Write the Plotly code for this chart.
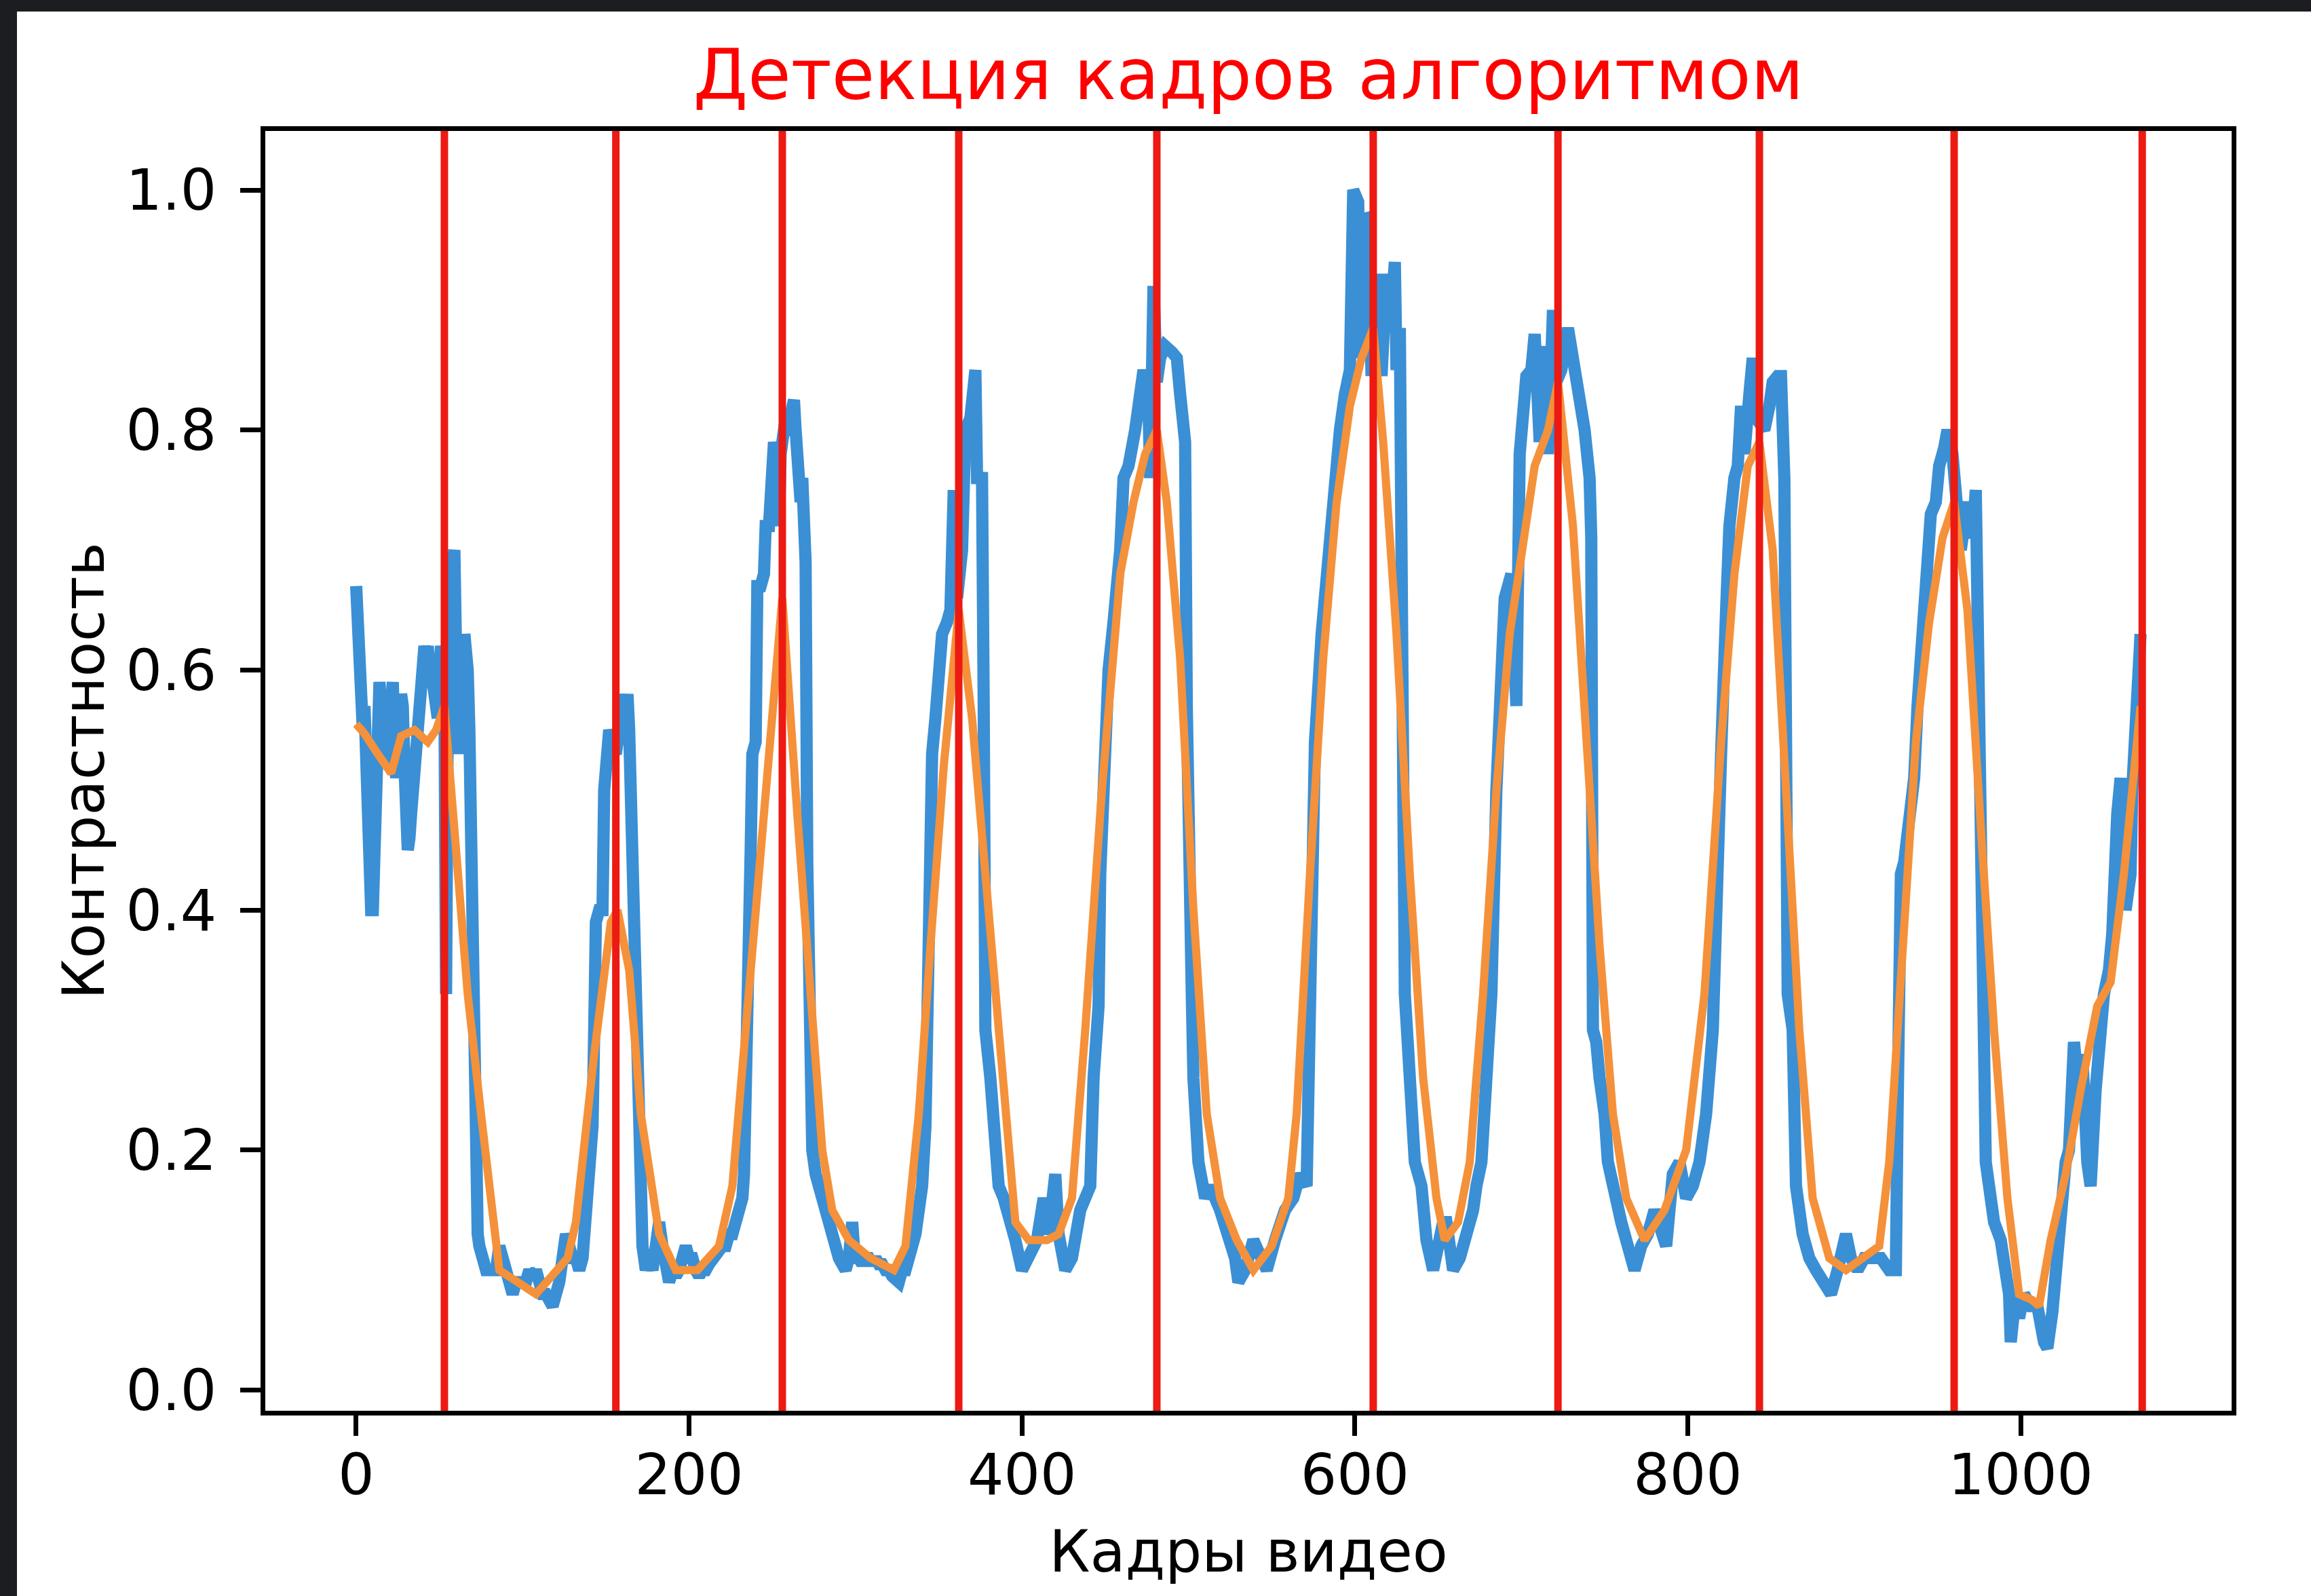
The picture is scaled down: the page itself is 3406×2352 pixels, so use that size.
import plotly.graph_objects as go

# ---------------- data ----------------
frames = [
    0, 1, 2, 3, 4, 5, 6, 7, 8, 9, 10, 11, 12, 13, 14, 15, 16, 17, 18, 19,
    20, 21, 22, 23, 24, 25, 26, 27, 28, 29, 30, 31, 32, 33, 34, 35, 36, 37, 38, 39,
    40, 41, 42, 43, 44, 45, 46, 47, 48, 49, 50, 51, 52, 53, 54, 55, 56, 57, 58, 59,
    60, 61, 62, 63, 64, 65, 66, 67, 68, 69, 70, 71, 72, 73, 74,
    76, 78, 80, 82, 84, 86, 88, 90, 92, 94, 96, 98, 100, 102, 104, 106, 108, 110,
    112, 114, 116, 118, 120, 122, 124, 126, 128, 130, 132, 134, 136, 138, 140, 142,
    143, 144, 146, 148, 149, 150, 152, 154, 156, 157, 158, 159, 160, 161, 162, 163,
    164, 165, 166, 167, 168, 169, 170, 171, 172, 174, 176, 178, 180, 182, 184, 186,
    188, 190, 192, 194, 196, 198, 200, 202, 204, 206, 208, 210, 212, 214, 216, 218,
    220, 222, 224, 226, 228, 230, 232, 233, 234, 235, 236, 237, 238, 240, 241, 243,
    245, 246, 248, 250, 251, 252, 253, 254, 255, 257, 259, 261, 263, 264, 265, 266,
    267, 268, 269, 270, 271, 272, 273, 274, 276, 278, 280, 282, 284, 286, 288, 290,
    292, 294, 296, 298, 299, 300, 302, 304, 306, 308, 310, 312, 314, 316, 318, 320,
    322, 324, 326, 328, 330, 332, 334, 336, 338, 340, 342, 343, 344, 345, 346, 348,
    350, 352, 355, 357, 359, 361, 364, 366, 369, 372, 373, 376, 377, 378, 381, 383,
    386, 389, 392, 396, 400, 404, 409, 413, 416, 420, 422, 426, 430, 435, 441, 443,
    446, 447, 450, 452, 455, 459, 461, 464, 468, 470, 473, 476, 477, 479, 481, 483,
    486, 490, 493, 495, 498, 499, 500, 502, 503, 506, 510, 513, 519, 524, 528, 530,
    534, 539, 543, 547, 552, 558, 563, 567, 571, 572, 575, 576, 580, 584, 588, 591,
    594, 597, 599, 602, 603, 606, 608, 610, 613, 616, 619, 621, 624, 625, 627, 628,
    629, 630, 633, 636, 640, 643, 647, 650, 653, 655, 659, 663, 667, 671, 673, 676,
    679, 682, 685, 688, 690, 694, 697, 699, 703, 706, 708, 711, 714, 716, 719, 721,
    724, 728, 730, 733, 735, 738, 741, 742, 743, 745, 747, 750, 752, 756, 760, 764,
    768, 772, 776, 780, 784, 787, 791, 795, 799, 803, 807, 811, 815, 817, 820, 823,
    825, 828, 830, 832, 834, 837, 839, 841, 846, 849, 851, 854, 856, 858, 859, 860,
    863, 865, 869, 873, 877, 881, 886, 890, 895, 898, 902, 906, 911, 916, 921, 925,
    926, 928, 930, 933, 936, 938, 941, 943, 946, 949, 951, 954, 956, 959, 962, 964,
    968, 971, 973, 975, 976, 979, 981, 984, 988, 990, 993, 994, 997, 999, 1002, 1006,
    1010, 1014, 1016, 1019, 1021, 1024, 1027, 1029, 1032, 1034, 1037, 1040, 1042, 1045,
    1047, 1050, 1053, 1055, 1058, 1060, 1063, 1066, 1067, 1068, 1070, 1072,
]
contrast = [
    0.67, 0.62, 0.60, 0.58, 0.55, 0.57, 0.52, 0.45, 0.42, 0.40, 0.40, 0.44, 0.50, 0.55, 0.59, 0.57, 0.53, 0.58, 0.53, 0.52,
    0.55, 0.58, 0.59, 0.54, 0.51, 0.53, 0.56, 0.58, 0.57, 0.52, 0.47, 0.45, 0.46, 0.48, 0.50, 0.52, 0.53, 0.56, 0.59, 0.61,
    0.62, 0.62, 0.61, 0.62, 0.60, 0.60, 0.59, 0.58, 0.57, 0.56, 0.60, 0.62, 0.61, 0.58, 0.33, 0.56, 0.63, 0.66, 0.69, 0.70,
    0.58, 0.53, 0.62, 0.60, 0.56, 0.63, 0.62, 0.60, 0.55, 0.45, 0.33, 0.22, 0.16, 0.13, 0.12,
    0.11, 0.10, 0.10, 0.10, 0.10, 0.12, 0.11, 0.10, 0.09, 0.08, 0.09, 0.09, 0.09, 0.09, 0.10, 0.095, 0.10, 0.09,
    0.08, 0.08, 0.075, 0.07, 0.08, 0.09, 0.11, 0.13, 0.12, 0.11, 0.11, 0.10, 0.11, 0.15, 0.20, 0.22,
    0.30, 0.39, 0.40, 0.40, 0.50, 0.52, 0.55, 0.54, 0.53, 0.54, 0.56, 0.58, 0.58, 0.55, 0.57, 0.58,
    0.55, 0.50, 0.44, 0.37, 0.28, 0.22, 0.17, 0.13, 0.12, 0.10, 0.11, 0.10, 0.13, 0.14, 0.12, 0.10,
    0.09, 0.10, 0.095, 0.10, 0.11, 0.12, 0.11, 0.11, 0.10, 0.095, 0.10, 0.10, 0.105, 0.11, 0.11, 0.115,
    0.12, 0.12, 0.13, 0.13, 0.14, 0.15, 0.16, 0.18, 0.23, 0.30, 0.37, 0.45, 0.53, 0.54, 0.67, 0.67,
    0.68, 0.72, 0.72, 0.76, 0.79, 0.78, 0.74, 0.72, 0.78, 0.80, 0.80, 0.82, 0.825, 0.80, 0.77, 0.78,
    0.74, 0.76, 0.72, 0.69, 0.44, 0.26, 0.21, 0.20, 0.18, 0.17, 0.16, 0.145, 0.14, 0.13, 0.115, 0.11,
    0.105, 0.10, 0.11, 0.14, 0.12, 0.11, 0.11, 0.105, 0.11, 0.11, 0.105, 0.11, 0.105, 0.105, 0.10, 0.10,
    0.095, 0.09, 0.09, 0.10, 0.10, 0.11, 0.12, 0.13, 0.15, 0.17, 0.22, 0.30, 0.42, 0.47, 0.53, 0.56,
    0.60, 0.63, 0.64, 0.65, 0.75, 0.66, 0.70, 0.80, 0.81, 0.85, 0.76, 0.76, 0.57, 0.30, 0.26, 0.23,
    0.17, 0.16, 0.14, 0.125, 0.10, 0.11, 0.125, 0.16, 0.13, 0.18, 0.13, 0.10, 0.11, 0.15, 0.17, 0.26,
    0.32, 0.43, 0.57, 0.60, 0.64, 0.70, 0.76, 0.77, 0.80, 0.82, 0.85, 0.82, 0.76, 0.92, 0.84, 0.86,
    0.87, 0.865, 0.86, 0.83, 0.79, 0.57, 0.41, 0.33, 0.26, 0.19, 0.16, 0.17, 0.15, 0.125, 0.11, 0.09,
    0.10, 0.125, 0.11, 0.10, 0.125, 0.15, 0.16, 0.18, 0.17, 0.26, 0.43, 0.54, 0.63, 0.70, 0.75, 0.80,
    0.83, 0.85, 1.00, 0.99, 0.86, 0.98, 0.975, 0.845, 0.93, 0.845, 0.93, 0.885, 0.94, 0.85, 0.885, 0.57,
    0.50, 0.33, 0.26, 0.19, 0.17, 0.125, 0.10, 0.12, 0.14, 0.14, 0.10, 0.11, 0.13, 0.15, 0.17, 0.19,
    0.26, 0.33, 0.50, 0.63, 0.66, 0.68, 0.57, 0.78, 0.845, 0.85, 0.88, 0.79, 0.87, 0.78, 0.90, 0.84,
    0.85, 0.885, 0.87, 0.85, 0.83, 0.80, 0.76, 0.71, 0.30, 0.29, 0.26, 0.23, 0.19, 0.16, 0.14, 0.12,
    0.10, 0.12, 0.13, 0.15, 0.13, 0.12, 0.18, 0.19, 0.16, 0.17, 0.19, 0.23, 0.30, 0.37, 0.53, 0.65,
    0.72, 0.76, 0.77, 0.82, 0.78, 0.83, 0.86, 0.81, 0.80, 0.82, 0.84, 0.845, 0.845, 0.76, 0.43, 0.33,
    0.30, 0.17, 0.13, 0.11, 0.10, 0.09, 0.08, 0.10, 0.13, 0.11, 0.10, 0.11, 0.11, 0.11, 0.10, 0.10,
    0.23, 0.43, 0.44, 0.47, 0.51, 0.57, 0.64, 0.70, 0.73, 0.74, 0.77, 0.785, 0.80, 0.78, 0.73, 0.70,
    0.74, 0.71, 0.75, 0.59, 0.37, 0.19, 0.17, 0.14, 0.125, 0.10, 0.08, 0.04, 0.08, 0.06, 0.08, 0.07,
    0.07, 0.04, 0.035, 0.065, 0.10, 0.14, 0.19, 0.20, 0.29, 0.26, 0.28, 0.19, 0.17, 0.25,
    0.29, 0.33, 0.35, 0.38, 0.48, 0.51, 0.40, 0.43, 0.50, 0.54, 0.59, 0.63,
]

smooth_frames = [
    0, 5, 13, 21, 27, 35, 43, 48, 53, 67, 75, 86, 108, 127, 132, 143, 153, 157, 164, 171,
    182, 192, 205, 218, 226, 236, 247, 256, 265, 273, 280, 286, 296, 309, 323, 330, 338, 345, 353, 362,
    370, 378, 389, 396, 404, 415, 422, 430, 438, 448, 459, 467, 474, 481, 487, 495, 503, 511, 519, 529,
    539, 550, 560, 565, 573, 581, 589, 597, 604, 611, 617, 625, 633, 641, 649, 654, 662, 669, 677, 685,
    693, 701, 708, 716, 722, 731, 739, 747, 755, 763, 774, 786, 799, 810, 820, 828, 836, 843, 851, 859,
    867, 875, 885, 895, 906, 915, 921, 929, 937, 945, 953, 960, 968, 976, 984, 992, 999, 1007, 1011, 1018,
    1027, 1036, 1046, 1054, 1062, 1072,
]
smooth_contrast = [
    0.555, 0.547, 0.53, 0.514, 0.545, 0.55, 0.54, 0.55, 0.57, 0.33, 0.23, 0.10, 0.08, 0.11, 0.14, 0.28, 0.39, 0.40, 0.35, 0.23,
    0.13, 0.10, 0.10, 0.12, 0.17, 0.33, 0.50, 0.66, 0.48, 0.33, 0.20, 0.15, 0.125, 0.11, 0.10, 0.12, 0.23, 0.37, 0.52, 0.65,
    0.56, 0.43, 0.26, 0.14, 0.125, 0.125, 0.13, 0.16, 0.30, 0.50, 0.68, 0.74, 0.78, 0.80, 0.74, 0.61, 0.40, 0.23, 0.16, 0.125,
    0.10, 0.12, 0.16, 0.23, 0.43, 0.61, 0.74, 0.82, 0.86, 0.885, 0.79, 0.63, 0.43, 0.26, 0.16, 0.125, 0.14, 0.19, 0.33, 0.50,
    0.63, 0.71, 0.77, 0.80, 0.84, 0.72, 0.55, 0.37, 0.23, 0.16, 0.125, 0.15, 0.20, 0.33, 0.54, 0.68, 0.77, 0.79, 0.70, 0.50,
    0.30, 0.16, 0.11, 0.10, 0.11, 0.12, 0.19, 0.37, 0.54, 0.64, 0.71, 0.74, 0.65, 0.47, 0.30, 0.16, 0.08, 0.075, 0.07, 0.125,
    0.18, 0.25, 0.32, 0.34, 0.43, 0.57,
]

detected_frames = [53, 156, 256, 362, 481, 611, 722, 843, 960, 1073]

x_ticks = [0, 200, 400, 600, 800, 1000]
y_ticks = [0.0, 0.2, 0.4, 0.6, 0.8, 1.0]

title_text = "Детекция кадров алгоритмом"
x_title = "Кадры видео"
y_title = "Контрастность"

# ---------------- figure ----------------
W, H = 3406, 2352
ML, MR, MT, MB = 391, 117, 193, 273
PW, PH = W - ML - MR, H - MT - MB
FONT = "DejaVu Sans"

fig = go.Figure()
fig.add_trace(go.Scatter(
    x=frames, y=contrast, mode="lines",
    line=dict(color="#3b8fd4", width=18),
    showlegend=False, hoverinfo="skip",
))
fig.add_trace(go.Scatter(
    x=smooth_frames, y=smooth_contrast, mode="lines",
    line=dict(color="#f4913a", width=12),
    showlegend=False, hoverinfo="skip",
))
for xf in detected_frames:
    fig.add_vline(x=xf, line=dict(color="#ec1a12", width=11), layer="above")

# dark screenshot frame (top and left bands)
def px_x(p):
    return (p - ML) / PW

def px_y(p):
    return (H - MB - p) / PH

dark = "#1c1d20"
fig.add_shape(type="rect", xref="paper", yref="paper",
              x0=px_x(-5), x1=px_x(W + 5), y0=px_y(17), y1=px_y(-5),
              fillcolor=dark, line=dict(width=0), layer="above")
fig.add_shape(type="rect", xref="paper", yref="paper",
              x0=px_x(-5), x1=px_x(25), y0=px_y(H + 5), y1=px_y(-5),
              fillcolor=dark, line=dict(width=0), layer="above")

axis_common = dict(
    showgrid=False, zeroline=False,
    showline=True, linecolor="black", linewidth=7, mirror=True,
    ticks="outside", ticklen=30, tickwidth=7, tickcolor="black",
    tickfont=dict(family=FONT, size=84, color="black"),
    automargin=False,
)

fig.update_layout(
    width=W, height=H,
    margin=dict(l=ML, r=MR, t=MT, b=MB, pad=0),
    paper_bgcolor="white", plot_bgcolor="white",
    font=dict(family=FONT, color="black"),
    title=dict(
        text=title_text, x=0.5, xref="paper", xanchor="center",
        y=1, yref="paper", yanchor="bottom", pad=dict(b=47),
        font=dict(family=FONT, size=103, color="red"),
    ),
    xaxis=dict(
        range=[-54.6, 1126.7], tickvals=x_ticks,
        ticktext=[str(v) for v in x_ticks], ticklabelstandoff=-15,
        title=dict(text=x_title, font=dict(family=FONT, size=85, color="black"), standoff=38),
        **axis_common,
    ),
    yaxis=dict(
        range=[-0.0172, 1.0492], tickvals=y_ticks,
        ticktext=[f"{v:.1f}" for v in y_ticks], ticklabelstandoff=18,
        title=dict(text=y_title, font=dict(family=FONT, size=85, color="black"), standoff=6),
        **axis_common,
    ),
)

fig.write_html("out.html")
